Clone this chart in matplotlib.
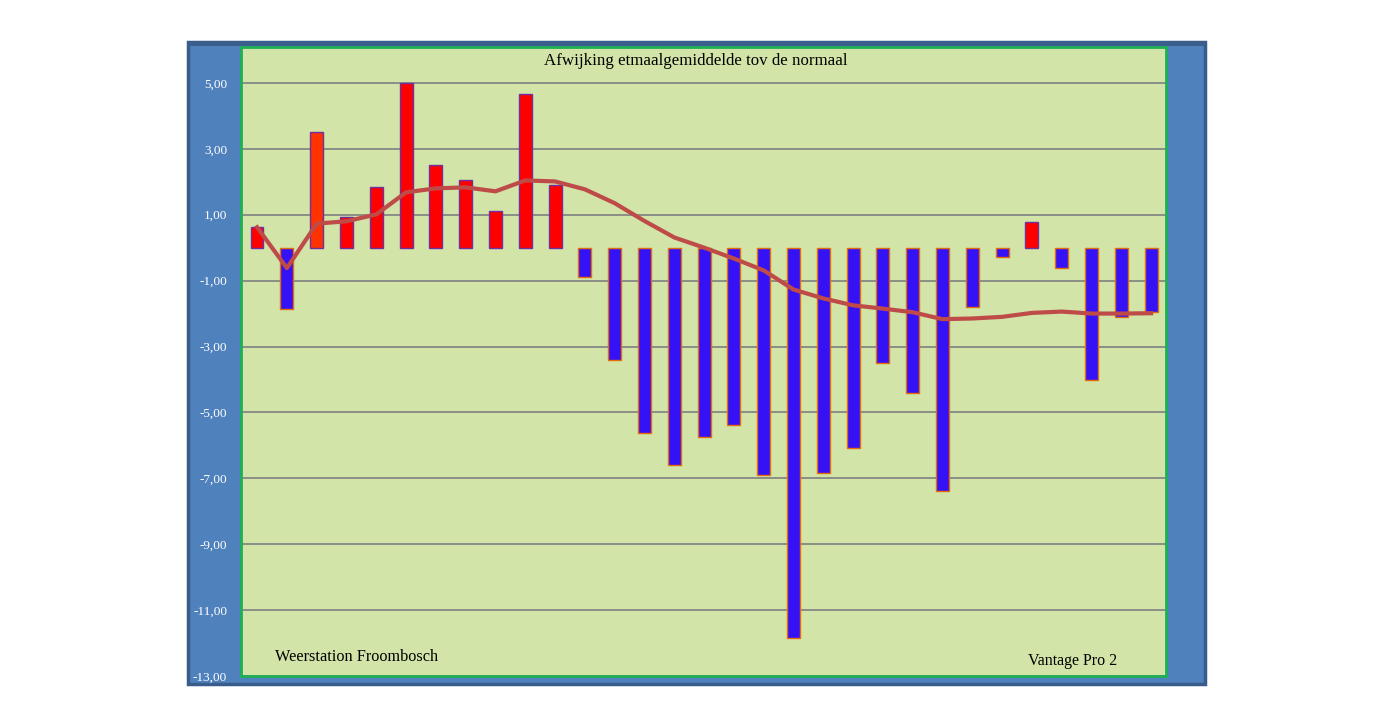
import matplotlib
matplotlib.use("Agg")
import matplotlib.pyplot as plt
from matplotlib.patches import Rectangle

# dagen van de maand
dagen = list(range(1, 32))

# afwijking etmaalgemiddelde t.o.v. normaal (graden)
afwijking = [0.62, -1.87, 3.50, 0.92, 1.84, 5.00, 2.50, 2.04, 1.10, 4.66,
             1.91, -0.90, -3.40, -5.64, -6.59, -5.74, -5.37, -6.89, -11.84, -6.83,
             -6.07, -3.49, -4.40, -7.38, -1.79, -0.29, 0.77, -0.63, -4.03, -2.09,
             -1.94]

# lopend gemiddelde (rode lijn)
gemiddelde = [0.62, -0.62, 0.73, 0.80, 1.01, 1.68, 1.80, 1.83, 1.71, 2.04,
              2.01, 1.77, 1.35, 0.81, 0.31, 0.00, -0.33, -0.69, -1.27, -1.54,
              -1.75, -1.85, -1.96, -2.17, -2.15, -2.10, -1.98, -1.94, -2.00, -2.00,
              -1.99]

yticks = [5, 3, 1, -1, -3, -5, -7, -9, -11, -13]
ylabels = ['5,00', '3,00', '1,00', '-1,00', '-3,00', '-5,00', '-7,00', '-9,00', '-11,00', '-13,00']

W, H = 1395, 726
fig = plt.figure(figsize=(W / 100, H / 100), dpi=100)
fig.patch.set_facecolor('white')

# blauw kader achter de grafiek
fig.patches.append(Rectangle((188 / W, 1 - 684 / H), (1205 - 188) / W, (684 - 42) / H,
                             transform=fig.transFigure, facecolor='#4F81BD',
                             edgecolor='#385D8A', linewidth=2.5, zorder=-1))
# donkere rand bovenaan (schaduw)
fig.patches.append(Rectangle((188 / W, 1 - 46 / H), (1205 - 188) / W, 4 / H,
                             transform=fig.transFigure, facecolor='#3A5F8C',
                             edgecolor='none', zorder=-1))

ax = fig.add_axes([241 / W, 1 - 676 / H, (1166 - 241) / W, (676 - 47) / H])
ax.set_zorder(2)
ax.set_facecolor('#D2E4A7')
for s in ax.spines.values():
    s.set_color('#1FAF55')
    s.set_linewidth(2)

kleuren = []
randen = []
for d, v in zip(dagen, afwijking):
    if v >= 0:
        kleuren.append('#FF3300' if d == 3 else '#FF0000')
        randen.append('#7030A0')
    else:
        kleuren.append('#3512F5')
        randen.append('#E46C0A')

ax.bar(dagen, afwijking, width=0.43, color=kleuren, edgecolor=randen, linewidth=1, zorder=3)
ax.plot(dagen, gemiddelde, color='#BE4B48', linewidth=3, zorder=4)

ax.set_xlim(0.46, 31.5)
ax.set_ylim(-13.0, 6.09)
ax.set_xticks([])
ax.set_yticks(yticks)
ax.set_yticklabels(ylabels, color='white', fontsize=9.5, family='Liberation Serif')
ax.tick_params(axis='y', length=0, pad=10)
ax.grid(axis='y', color='#808080', linewidth=1.2, zorder=1)
ax.set_axisbelow(True)

fig.text(696 / W, 1 - 61 / H, 'Afwijking etmaalgemiddelde tov de normaal',
         ha='center', va='center', fontsize=12.2, family='Liberation Serif', color='black', zorder=5)
fig.text(275 / W, 1 - 657 / H, 'Weerstation Froombosch',
         ha='left', va='center', fontsize=11.7, family='Liberation Serif', color='black', zorder=5)
fig.text(1028 / W, 1 - 661 / H, 'Vantage Pro 2',
         ha='left', va='center', fontsize=11.5, family='Liberation Serif', color='black', zorder=5)

fig.savefig('out.png', dpi=100)
